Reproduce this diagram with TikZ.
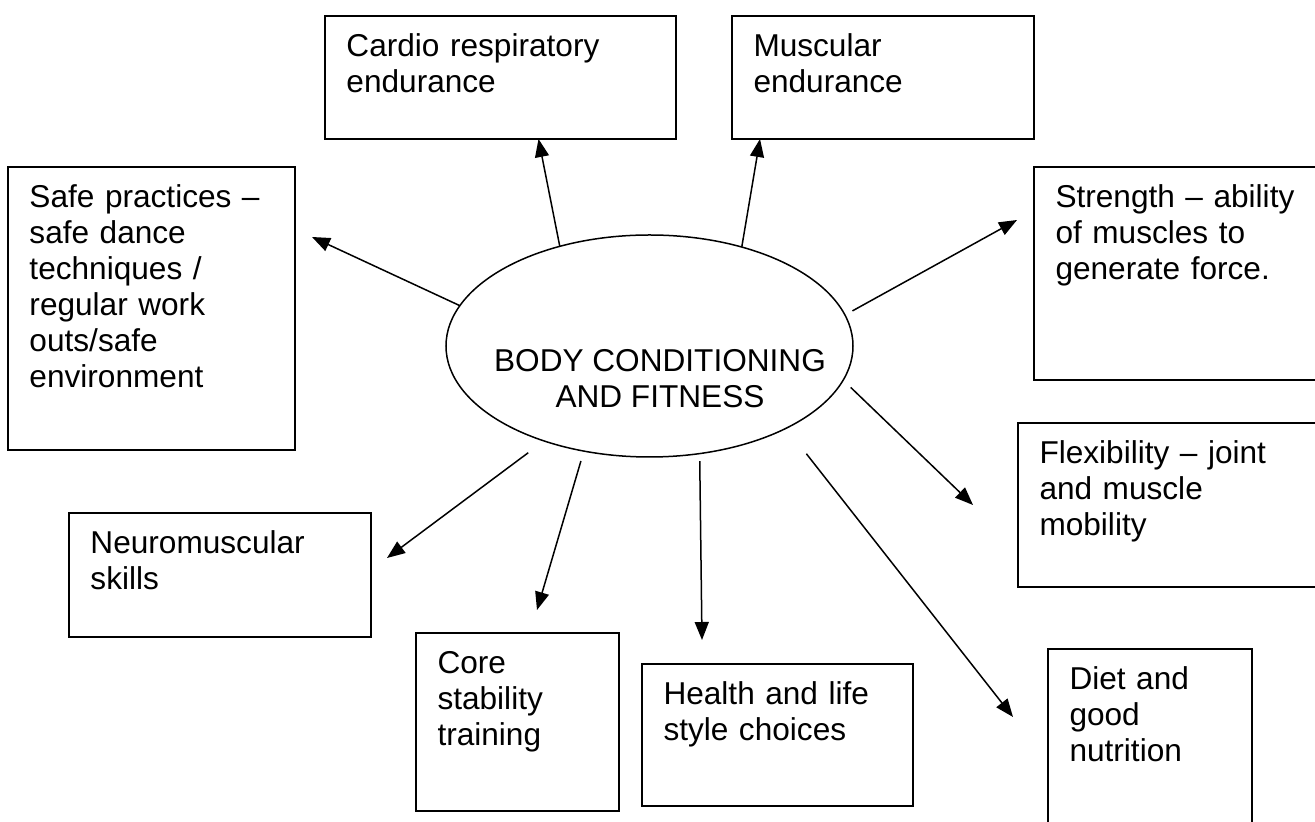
\documentclass[tikz,border=0pt]{standalone}
\usepackage{fontspec}
\setmainfont{Liberation Sans}
\usepackage{tikz}
\usetikzlibrary{positioning}
\usetikzlibrary{arrows.meta}
\usetikzlibrary{shapes.geometric}
\tikzset{every edge/.style={ % arrows out of the ellipse
			draw,
			-{Triangle[length=9pt,width=7pt]},
			line width=0.75pt},
		topic/.style 2 args={ % one box, text at its top left
			draw,
			line width=1pt,
			align=left,
			outer sep=0pt,
			inner xsep=10.75pt,
			inner ysep=0pt,
			text height=20.5pt,
			text width=#1,
			text depth=#2},
		hub/.style={
			draw,
			ellipse,
			line width=0.75pt,
			outer sep=0pt,
			inner sep=0pt,
			minimum width=203.5pt,
			minimum height=111pt}}

\begin{document}
\begin{tikzpicture}[font=\fontsize{15.8pt}{18pt}\selectfont]
			\useasboundingbox (-324.75pt,173pt) rectangle (332.75pt,-238pt);
			\clip (-324.75pt,173pt) rectangle (332.75pt,-238pt);
			\node [hub] (E) {};
			\node [align=center, xshift=5.25pt, yshift=-16.25pt] (Etext) at (E) {BODY CONDITIONING\\AND FITNESS};
			\node [topic={154pt}{41pt}, above right=48pt and 13.25pt of E.north, anchor=south east] (C) {Cardio respiratory\\endurance};
			\node [topic={129.5pt}{41pt}, right=28pt of C.north east, anchor=north west] (M) {Muscular\\endurance};
			\node [topic={122.5pt}{86pt}, below=14pt of M.south east, anchor=north west] (St) {Strength -- ability\\of muscles to\\generate force.};
			\node [topic={130.5pt}{61.5pt}, below left=21.5pt and 8pt of St.south west, anchor=north west] (F) {Flexibility -- joint\\and muscle\\mobility};
			\node [topic={80.5pt}{75pt}, below right=31pt and 15pt of F.south west] (D) {Diet and\\good\\nutrition};
			\node [topic={114pt}{50.5pt}, below left=7.5pt and 67.5pt of D.north west] (H) {Health and life\\style choices};
			\node [topic={80pt}{68.5pt}, above left=15.5pt and 11.5pt of H.north west, anchor=north east] (K) {Core\\stability\\training};
			\node [topic={129.5pt}{41.5pt}, above left=60pt and 22.5pt of K.north west, anchor=north east] (N) {Neuromuscular\\skills};
			\node [topic={122pt}{121pt}, above left=31.5pt and 30.5pt of N.north west, anchor=south west] (S) {Safe practices --\\safe dance\\techniques /\\regular work\\outs/safe\\environment};

			\coordinate [right=19pt of C.south] (tC);
			\coordinate [left=61.5pt of M.south] (tM);
			\coordinate [above right=35.75pt and 8.5pt of S.east] (tS);
			\coordinate [above left=26.75pt and 8.5pt of St.west] (tSt);
			\coordinate [left=22.5pt of F.west] (tF);
			\coordinate [below left=34pt and 17.5pt of D.north west] (tD);
			\coordinate [above right=12pt and 30pt of H.north west] (tH);
			\coordinate [above right=11.5pt and 60.5pt of K.north west] (tK);
			\coordinate [below right=22.5pt and 8pt of N.north east] (tN);

			\draw (E.132.5) edge (tC) (E.47.9) edge (tM) (E.168.5) edge (tS)
				(E.9.3) edge[shorten <=4.3pt] (tSt)
				(E.350.8) edge[shorten <=5.25pt] (tF)
				(E.329.6) edge[shorten <=16.25pt] (tD)
				(E.295.6) edge[shorten <=3.8pt] (tH)
				(E.238) edge[shorten <=5.2pt] (tK)
				(E.222.3) edge[shorten <=9.85pt] (tN);
		\end{tikzpicture}
\end{document}
